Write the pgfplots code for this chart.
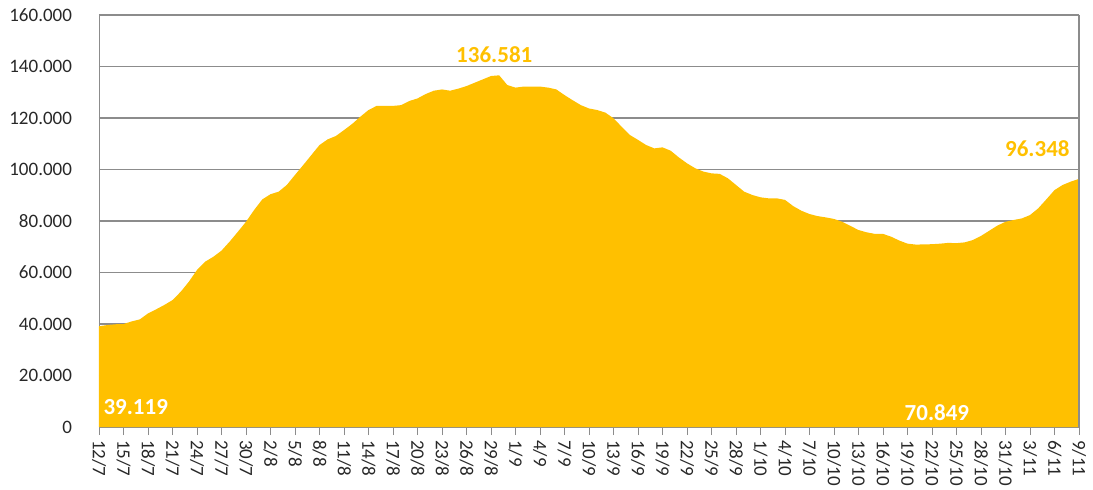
\documentclass[border=0pt]{standalone}
\usepackage{pgfplots}
\pgfplotsset{compat=1.18}
\usepackage{fontspec}
\setmainfont{Carlito}
\definecolor{gold}{RGB}{255,192,0}
\definecolor{gridgray}{RGB}{140,140,140}
\definecolor{labgray}{RGB}{40,40,40}
\begin{document}
\begin{tikzpicture}
\useasboundingbox (-49.5pt,-31pt) rectangle (497pt,213.5pt);
\begin{axis}[
  at={(0,0)}, anchor=south west,
  scale only axis, width=490pt, height=206pt,
  xmin=0, xmax=120, ymin=0, ymax=160000,
  scaled y ticks=false, scaled x ticks=false,
  axis line style={draw=gridgray},
  ymajorgrids, grid style={draw=gridgray, line width=0.6pt},
  ytick={0,20000,40000,60000,80000,100000,120000,140000,160000},
  yticklabels={0,20.000,40.000,60.000,80.000,100.000,120.000,140.000,160.000},
  ytick style={draw=none},
  yticklabel style={font=\fontsize{9.5}{11}\selectfont, text=labgray, xshift=-6pt},
  xtick={0,3,...,120},
  xtick pos=lower,
  xticklabels={12/7,15/7,18/7,21/7,24/7,27/7,30/7,2/8,5/8,8/8,11/8,14/8,17/8,20/8,23/8,26/8,29/8,1/9,4/9,7/9,10/9,13/9,16/9,19/9,22/9,25/9,28/9,1/10,4/10,7/10,10/10,13/10,16/10,19/10,22/10,25/10,28/10,31/10,3/11,6/11,9/11},
  xtick style={draw=gridgray},
  tick align=outside, major tick length=4pt,
  xticklabel style={font=\fontsize{9.5}{11}\selectfont, text=labgray, rotate=-90, anchor=west, xshift=-1pt},
  /pgf/number format/assume math mode=true,
  clip=false,
]
\addplot[fill=gold, draw=none] table {
x y
0 39119
1 39600
2 39900
3 40000
4 41000
5 41800
6 44100
7 45700
8 47400
9 49300
10 52500
11 56400
12 61000
13 64200
14 66100
15 68500
16 72000
17 75800
18 79700
19 84300
20 88400
21 90400
22 91400
23 94000
24 97900
25 101700
26 105600
27 109500
28 111700
29 113000
30 115300
31 117700
32 120500
33 123100
34 124700
35 124700
36 124700
37 125000
38 126600
39 127600
40 129300
41 130600
42 131100
43 130600
44 131400
45 132400
46 133700
47 135000
48 136300
49 136581
50 132800
51 131800
52 132200
53 132200
54 132200
55 131800
56 131100
57 128900
58 126900
59 125000
60 123700
61 123100
62 122100
63 119900
64 116600
65 113400
66 111500
67 109500
68 108200
69 108600
70 107300
71 104700
72 102400
73 100500
74 99200
75 98500
76 98300
77 96600
78 94000
79 91400
80 90100
81 89200
82 88800
83 88800
84 88200
85 85800
86 84000
87 82700
88 81900
89 81400
90 80800
91 79700
92 78100
93 76500
94 75600
95 75000
96 75000
97 73900
98 72400
99 71200
100 70849
101 70900
102 71000
103 71200
104 71500
105 71400
106 71700
107 72600
108 74200
109 76200
110 78200
111 79700
112 80400
113 81000
114 82300
115 84900
116 88400
117 92000
118 94000
119 95300
120 96348
} \closedcycle;
\draw[gridgray, line width=0.6pt] (rel axis cs:1,0) -- (rel axis cs:1,1);
\node[font=\fontsize{11.5}{13}\selectfont\bfseries, text=gold] at (axis cs:48.4,144500) {136.581};
\node[font=\fontsize{11.5}{13}\selectfont\bfseries, text=white] at (axis cs:4.5,7700) {39.119};
\node[font=\fontsize{11.5}{13}\selectfont\bfseries, text=white] at (axis cs:102.6,5500) {70.849};
\node[font=\fontsize{11.5}{13}\selectfont\bfseries, text=gold] at (axis cs:114.9,108000) {96.348};
\end{axis}
\end{tikzpicture}
\end{document}
